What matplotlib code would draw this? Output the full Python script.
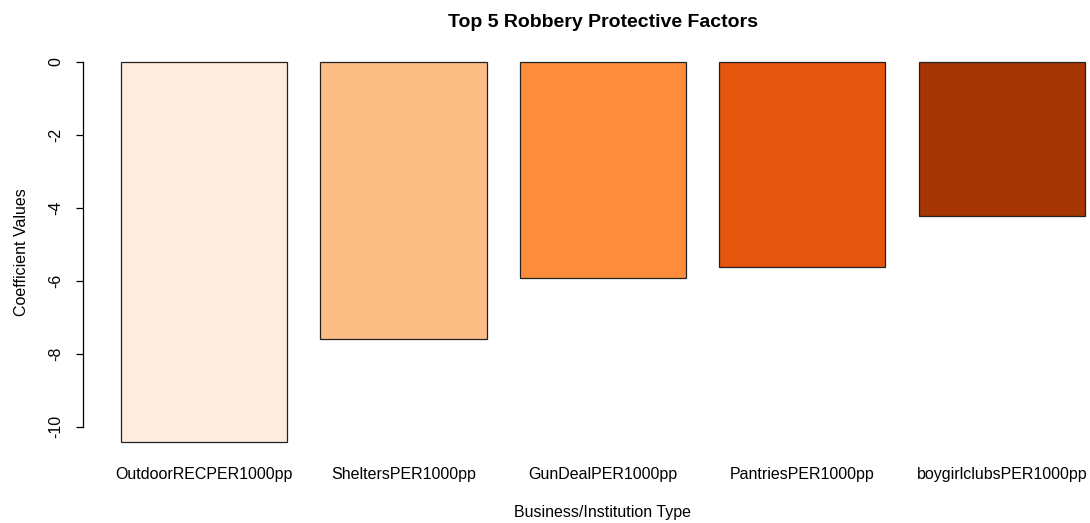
import matplotlib.pyplot as plt

plt.rcParams['font.family'] = ['Liberation Sans', 'DejaVu Sans']

factors = ["OutdoorRECPER1000pp", "SheltersPER1000pp", "GunDealPER1000pp",
           "PantriesPER1000pp", "boygirlclubsPER1000pp"]
coefs = [-10.41, -7.59, -5.92, -5.62, -4.22]
colors = ["#feedde", "#fdbe85", "#fd8d3c", "#e6550d", "#a63603"]

fig = plt.figure(figsize=(10.9, 5.23), dpi=100)
ax = fig.add_axes([0.0757, 0.1262, 0.955, 0.7843])

# R barplot layout: width 1, space 0.2
xs = [0.7 + 1.2 * i for i in range(len(factors))]
ax.bar(xs, coefs, width=1.0, color=colors, edgecolor="#222222", linewidth=0.9)

lo, hi = 0.2, 0.2 + 1.2 * len(factors) - 0.2
pad = 0.04 * (hi - lo)
ax.set_xlim(lo - pad, hi + pad)
ymin = min(coefs)
ax.set_ylim(ymin + 0.04 * ymin, -0.04 * ymin)

for s in ["top", "right", "bottom"]:
    ax.spines[s].set_visible(False)
ax.spines["left"].set_bounds(-10, 0)
ax.spines["left"].set_linewidth(0.9)

ax.set_yticks([0, -2, -4, -6, -8, -10])
ax.set_yticklabels(["0", "-2", "-4", "-6", "-8", "-10"], rotation=90, va="center")
ax.tick_params(axis="y", length=5, width=0.9, pad=9, labelsize=11.5)
ax.set_xticks(xs)
ax.set_xticklabels(factors)
ax.tick_params(axis="x", length=0, pad=7, labelsize=11.5)

ax.set_ylabel("Coefficient Values", fontsize=11.5, labelpad=14)
ax.set_xlabel("Business/Institution Type", fontsize=11.5, labelpad=17)
ax.set_title("Top 5 Robbery Protective Factors", fontsize=14, fontweight="bold", pad=14)

fig.savefig("out.png", dpi=100)
